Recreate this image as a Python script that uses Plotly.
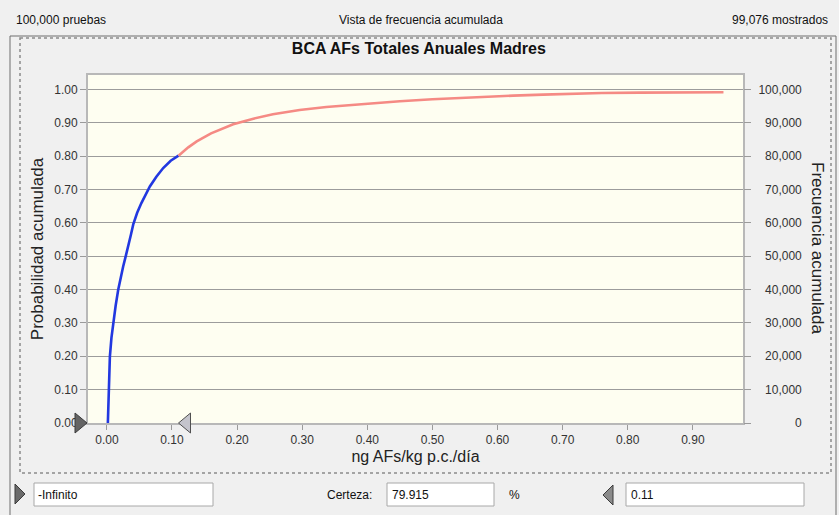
import plotly.graph_objects as go

# ---------------- data ----------------
# cumulative distribution (ng AFs/kg p.c./día vs cumulative probability)
x_blue = [0.0015, 0.0020, 0.0030, 0.0046, 0.0070, 0.0097, 0.0135, 0.0174, 0.0215, 0.0250,
          0.0290, 0.0330, 0.0370, 0.0405, 0.0465, 0.0530, 0.0595, 0.0660, 0.0760, 0.0865,
          0.0980, 0.1100]
y_blue = [0.000, 0.050, 0.100, 0.199, 0.255, 0.299, 0.352, 0.399, 0.440, 0.469,
          0.500, 0.529, 0.565, 0.595, 0.630, 0.659, 0.685, 0.709, 0.738, 0.764,
          0.786, 0.801]
x_red = [0.110, 0.125, 0.138, 0.160, 0.194, 0.225, 0.255, 0.296, 0.337, 0.390,
         0.450, 0.500, 0.562, 0.624, 0.670, 0.711, 0.760, 0.819, 0.880, 0.947]
y_red = [0.801, 0.826, 0.844, 0.868, 0.895, 0.912, 0.925, 0.938, 0.947, 0.956,
         0.964, 0.970, 0.976, 0.981, 0.984, 0.987, 0.989, 0.990, 0.991, 0.991]

x_ticks = [0.0, 0.1, 0.2, 0.3, 0.4, 0.5, 0.6, 0.7, 0.8, 0.9]
y_ticks = [0.0, 0.1, 0.2, 0.3, 0.4, 0.5, 0.6, 0.7, 0.8, 0.9, 1.0]
freq_ticks = [0, 10000, 20000, 30000, 40000, 50000, 60000, 70000, 80000, 90000, 100000]

title = "BCA AFs Totales Anuales Madres"
x_title = "ng AFs/kg p.c./día"
y_title = "Probabilidad acumulada"
y2_title = "Frecuencia acumulada"
trials_text = "100,000 pruebas"
view_text = "Vista de frecuencia acumulada"
shown_text = "99,076 mostrados"
lower_value = "-Infinito"
certainty_label = "Certeza:"
certainty_value = "79.915"
upper_value = "0.11"
upper_bound = 0.11

# ---------------- layout helpers ----------------
W, H = 839, 515
PL, PR, PT, PB = 88, 743, 75, 423  # plot area in pixels
XR = [-0.029, 0.977]


def px(x):
    return (x - PL) / (PR - PL)


def py(y):
    return (PB - y) / (PB - PT)


def data_to_paper_x(v):
    return (v - XR[0]) / (XR[1] - XR[0])


def rpad(s):
    nd = sum(c.isdigit() for c in s)
    nc = s.count(",")
    return "\u2007" * (6 - nd) + "\u2008" * (1 - nc) + s


FONT = "Liberation Sans, Arial, sans-serif"
TICKC = "#333333"

fig = go.Figure()
fig.add_trace(go.Scatter(x=x_blue, y=y_blue, mode="lines",
                         line=dict(color="#2238e0", width=2.6), hoverinfo="skip",
                         showlegend=False))
fig.add_trace(go.Scatter(x=x_red, y=y_red, mode="lines",
                         line=dict(color="#f58a84", width=2.6), hoverinfo="skip",
                         showlegend=False))
# invisible trace to activate secondary axis
fig.add_trace(go.Scatter(x=[x_red[-1]], y=[y_red[-1] * 100000], yaxis="y2", mode="markers",
                         marker=dict(opacity=0), hoverinfo="skip", showlegend=False))

ymax = 1.0 + (89.3 - PT) / (PB - 89.3)

fig.update_layout(
    width=W, height=H,
    margin=dict(l=PL, r=W - PR, t=PT, b=H - PB, pad=0),
    paper_bgcolor="#f0f0f0",
    plot_bgcolor="#fefef1",
    font=dict(family=FONT, size=12, color=TICKC),
    title=dict(text="<b>" + title + "</b>", x=px(415), xanchor="center",
               y=1 - 48 / H, yanchor="middle",
               font=dict(size=16, color="#111111", family=FONT)),
    xaxis=dict(range=XR, tickvals=x_ticks, tickformat=".2f",
               showgrid=False, zeroline=False, showline=True, linecolor="#b8b8b8",
               linewidth=2, mirror=True, ticks="outside", ticklen=5, tickcolor="#9a9a9a",
               tickwidth=1, tickfont=dict(size=12, color=TICKC),
               title=dict(text=x_title, font=dict(size=16, color="#222222"), standoff=4)),
    yaxis=dict(range=[0, ymax], tickvals=y_ticks, tickformat=".2f",
               showgrid=True, gridcolor="#9c9c9c", gridwidth=1.3, zeroline=False,
               showline=True, linecolor="#b8b8b8", linewidth=2, mirror=True,
               ticks="outside", ticklen=6, tickcolor="#9a9a9a", tickwidth=1.3,
               tickfont=dict(size=12, color=TICKC),
               title=dict(text=y_title, font=dict(size=17, color="#222222"), standoff=6)),
    yaxis2=dict(range=[0, ymax * 100000], overlaying="y", side="right",
                tickvals=freq_ticks, ticktext=[rpad(f"{v:,}") for v in freq_ticks],
                showgrid=False, zeroline=False, showline=False,
                ticks="outside", ticklen=7, tickcolor="#9a9a9a", tickwidth=1.3,
                ticklabelstandoff=5,
                tickfont=dict(size=12, color=TICKC)),
)

shapes = []
# outer frame and dotted chart panel
shapes.append(dict(type="rect", xref="paper", yref="paper", x0=px(10), x1=px(836),
                   y0=py(36), y1=py(516), line=dict(color="#6e6e6e", width=1), layer="below"))
shapes.append(dict(type="rect", xref="paper", yref="paper", x0=px(20), x1=px(831),
                   y0=py(38), y1=py(473), line=dict(color="#8a8a8a", width=1.5, dash="dot"),
                   layer="below"))
# lower grabber (dark, pointing right) at left edge of plot at y=0
shapes.append(dict(type="path", xref="paper", yref="paper",
                   path=f"M {px(75)},{py(413)} L {px(87)},{py(423)} L {px(75)},{py(433)} Z",
                   fillcolor="#646464", line=dict(color="#3a3a3a", width=1)))
# upper grabber (light, pointing left) at certainty bound
gx = data_to_paper_x(upper_bound)
dx = 12 / (PR - PL)
shapes.append(dict(type="path", xref="paper", yref="paper",
                   path=f"M {gx},{py(423)} L {gx + dx},{py(413)} L {gx + dx},{py(433)} Z",
                   fillcolor="#c4c4cc", line=dict(color="#505050", width=1)))
# bottom controls: boxes
for x0, x1 in [(34, 213), (387, 494), (626, 804)]:
    shapes.append(dict(type="rect", xref="paper", yref="paper", x0=px(x0), x1=px(x1),
                       y0=py(483), y1=py(506), fillcolor="#ffffff",
                       line=dict(color="#a8a8a8", width=1)))
# bottom triangles
shapes.append(dict(type="path", xref="paper", yref="paper",
                   path=f"M {px(15)},{py(484)} L {px(25)},{py(494)} L {px(15)},{py(504)} Z",
                   fillcolor="#6a6a6a", line=dict(color="#3a3a3a", width=1)))
shapes.append(dict(type="path", xref="paper", yref="paper",
                   path=f"M {px(613)},{py(485)} L {px(603)},{py(495)} L {px(613)},{py(505)} Z",
                   fillcolor="#8a8a8a", line=dict(color="#3a3a3a", width=1)))
fig.update_layout(shapes=shapes)

ann = []
def txt(t, x, y, xanchor="left", size=12, color="#111111", angle=0):
    ann.append(dict(text=t, x=px(x), y=py(y), xref="paper", yref="paper",
                    xanchor=xanchor, yanchor="middle", showarrow=False, textangle=angle,
                    font=dict(size=size, color=color, family=FONT)))

txt(trials_text, 14, 20)
txt(view_text, 421, 20, xanchor="center")
txt(shown_text, 830, 20, xanchor="right")
txt(y2_title, 818, 248, xanchor="center", size=17, color="#222222", angle=90)
txt(lower_value, 36, 495)
txt(certainty_label, 374, 495, xanchor="right")
txt(certainty_value, 390, 495)
txt("%", 507, 495)
txt(upper_value, 629, 495)
fig.update_layout(annotations=ann)

fig.write_html("out.html")
